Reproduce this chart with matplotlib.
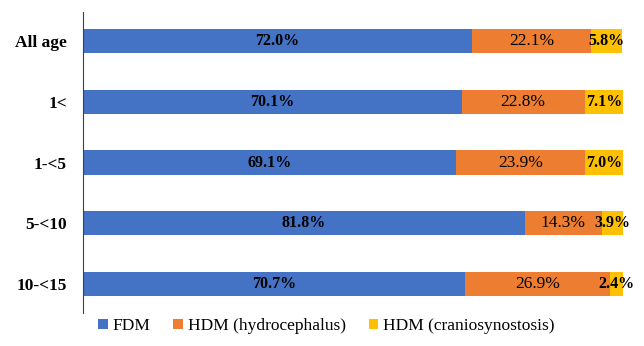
import matplotlib.pyplot as plt
import numpy as np

groups = ['All age', '1<', '1-<5', '5-<10', '10-<15']
fdm = [72.0, 70.1, 69.1, 81.8, 70.7]
hydro = [22.1, 22.8, 23.9, 14.3, 26.9]
cranio = [5.8, 7.1, 7.0, 3.9, 2.4]

# name, values, fill, label weight, label size
series = [
    ('FDM', fdm, '#4472C4', 'bold', 11.5),
    ('HDM (hydrocephalus)', hydro, '#ED7D31', 'normal', 12.5),
    ('HDM (craniosynostosis)', cranio, '#FFC000', 'bold', 11.5),
]

plt.rcParams['font.family'] = ['Liberation Serif', 'DejaVu Serif']

fig = plt.figure(figsize=(6.44, 3.46), dpi=100)
ax = fig.add_axes([83 / 644, 1 - 313 / 346, 540 / 644, 301 / 346])

y = np.arange(len(groups))
left = np.zeros(len(groups))
for name, vals, color, weight, size in series:
    vals = np.array(vals)
    ax.barh(y, vals, left=left, height=0.4, color=color, label=name)
    for yi, l, v in zip(y, left, vals):
        ax.text(l + v / 2, yi, f'{v:.1f}%', ha='center', va='center',
                fontsize=size, fontweight=weight, color='black')
    left += vals

ax.set_xlim(0, 100)
ax.set_ylim(len(groups) - 0.525, -0.475)
ax.set_yticks(y)
ax.set_yticklabels(groups, fontsize=12.5, fontweight='bold')
ax.tick_params(axis='y', length=0, pad=11.5)
ax.set_xticks([])
for s in ['top', 'right', 'bottom']:
    ax.spines[s].set_visible(False)
ax.spines['left'].set_color('#404040')
ax.spines['left'].set_linewidth(0.8)

fig.legend(loc='center', bbox_to_anchor=(0.507, 1 - 326 / 346), ncol=3,
           frameon=False, fontsize=12.5, handlelength=0.55, handleheight=0.55,
           handletextpad=0.3, columnspacing=1.3)

fig.savefig('out.png', dpi=100, facecolor='white')
